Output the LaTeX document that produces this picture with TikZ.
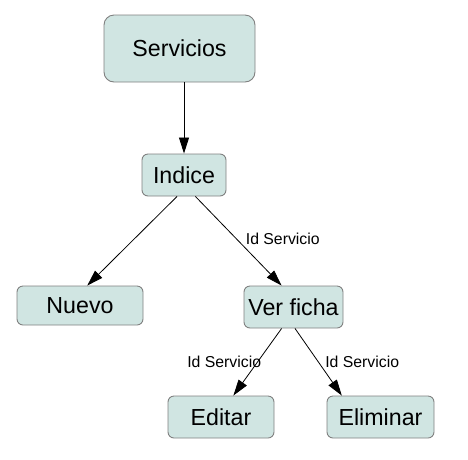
\documentclass[tikz,border=0pt]{standalone}
\usepackage{fontspec}
\setmainfont{Liberation Sans}
\usetikzlibrary{arrows.meta}
\definecolor{boxfill}{RGB}{208,229,226}
\definecolor{boxline}{RGB}{128,128,128}

\begin{document}
\begin{tikzpicture}[x=1pt,y=-1pt,
		box/.style={draw=boxline,fill=boxfill,line width=.9pt,rounded corners=6pt,inner sep=0pt,minimum height=42pt,font=\fontsize{23.2}{27}\selectfont},
		lbl/.style={inner sep=0pt,font=\fontsize{15.8}{18}\selectfont}]
		\useasboundingbox (0,0) rectangle (468,459);
		\node[box,minimum width=151pt,minimum height=67pt,rounded corners=10pt] (S) at (179.5,48.5) {Servicios};
		\node[box,minimum width=84pt] (I) at (184,175) {Indice};
		\node[box,minimum width=126pt,minimum height=39pt] (N) at (80,305.5) {Nuevo};
		\node[box,minimum width=99pt] (V) at (293.5,307) {Ver ficha};
		\node[box,minimum width=106pt] (E) at (221,417) {Editar};
		\node[box,minimum width=107pt] (E') at (380.5,417) {Eliminar};
		%
		\path[-{Triangle[length=16pt,width=10pt]},line width=.8pt]
		(S.south -| I.north) edge (I.north)
		(I.252) edge (N.70)
		(I.298) edge node[lbl,right=8.7pt,pos=.48]{Id Servicio} (V.119)
		(V.241) edge node[lbl,left=-4pt,pos=.5]{Id Servicio} (E.60)
		(V.274) edge node[lbl,right=6.5pt,pos=.5]{Id Servicio} (E'.151);
\end{tikzpicture}
\end{document}
